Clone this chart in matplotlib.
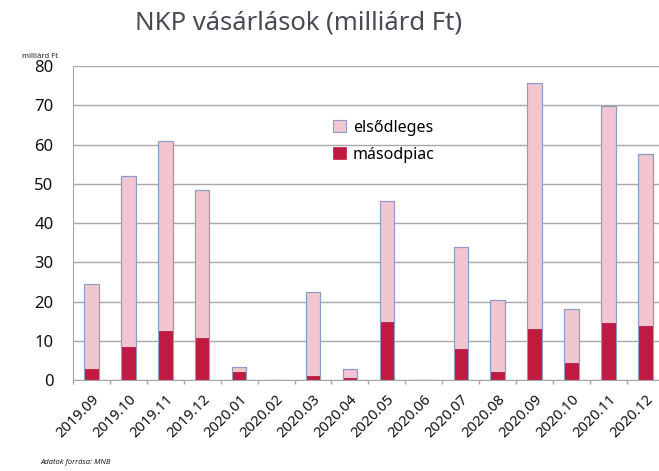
import numpy as np
import matplotlib
matplotlib.use("Agg")
import matplotlib.pyplot as plt

plt.rcParams['font.family'] = ['Noto Sans', 'DejaVu Sans']

months = ['2019.09', '2019.10', '2019.11', '2019.12', '2020.01', '2020.02',
          '2020.03', '2020.04', '2020.05', '2020.06', '2020.07', '2020.08',
          '2020.09', '2020.10', '2020.11', '2020.12']
# totals, secondary market part below
total = [24.5, 52.1, 60.8, 48.3, 3.3, 0, 22.4, 2.8, 45.5, 0,
         33.8, 20.4, 75.6, 18.1, 69.7, 57.6]
masodpiac = [2.8, 8.5, 12.4, 10.6, 2.1, 0, 1.0, 0.6, 14.9, 0,
             7.9, 2.1, 12.9, 4.4, 14.6, 13.8]
elsodleges = [t - m for t, m in zip(total, masodpiac)]

light = '#f2c6d0'
dark = '#c01a40'
edge = '#8e9cc8'

fig = plt.figure(figsize=(6.59, 4.71), dpi=100)
ax = fig.add_axes([73/659, 1 - 380/471, 1 - 73/659, (380 - 66)/471])

x = np.arange(len(months))
w = 0.39
ax.bar(x, elsodleges, w, bottom=masodpiac, color=light, edgecolor=edge,
       linewidth=0.8, label='elsődleges', zorder=3)
ax.bar(x, masodpiac, w, color=dark, edgecolor=dark, linewidth=0.5,
       label='másodpiac', zorder=3)
# outline around whole stack
ax.bar(x, total, w, fill=False, edgecolor=edge, linewidth=0.8, zorder=4)

ax.set_ylim(0, 80)
ax.set_xlim(-0.5, 15.37)
ax.set_yticks(range(0, 81, 10))
ax.yaxis.grid(True, color='#a8a8a8', linewidth=1.0, zorder=0)
ax.tick_params(axis='y', length=0, labelsize=12, pad=14, labelcolor='#111111')

ax.set_xticks(x)
ax.set_xticklabels(months, rotation=45, ha='right', rotation_mode='anchor',
                   fontsize=10.5, color='#111111')
ax.set_xticks(np.arange(-0.5, 15.5, 1), minor=True)
ax.tick_params(axis='x', which='major', length=0, pad=9)
ax.tick_params(axis='x', which='minor', length=3, color='#a8a8a8', width=1)

for s in ['top', 'right']:
    ax.spines[s].set_visible(False)
ax.spines['left'].set_color('#a8a8a8')
ax.spines['bottom'].set_color('#a8a8a8')

leg = ax.legend(loc='upper left', bbox_to_anchor=(0.42, 0.875), frameon=False,
                fontsize=11.5, handlelength=0.8, handleheight=0.8,
                handletextpad=0.4, labelspacing=0.7)

fig.text(299/659, 1 - 23/471, 'NKP vásárlások (milliárd Ft)', ha='center',
         va='center', fontsize=18.5, color='#4a4a55')
fig.text(22/659, 1 - 57/471, 'milliárd Ft', ha='left', va='center',
         fontsize=5.5, color='#222222')
fig.text(40/659, 1 - 462/471, 'Adatok forrása: MNB', ha='left', va='center',
         fontsize=5.5, style='italic', color='#222222')

fig.savefig('out.png', dpi=100)
